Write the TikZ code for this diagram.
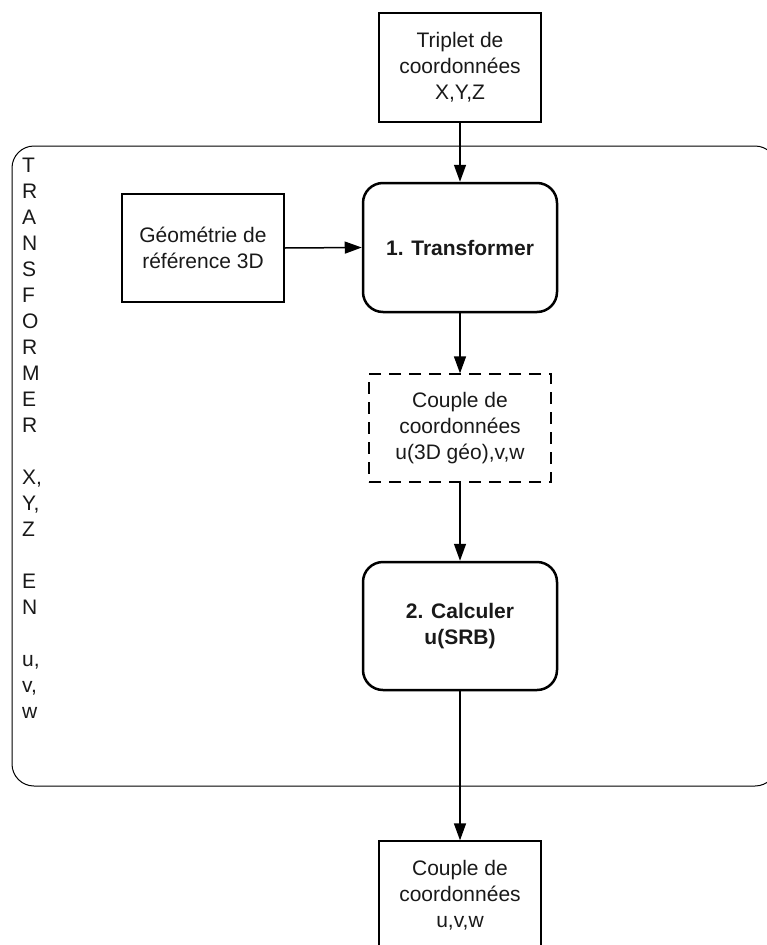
\documentclass[tikz,border=0pt]{standalone}
\usepackage{fontspec}
\setmainfont{Liberation Sans}
\usetikzlibrary{arrows.meta}
\begin{document}
\begin{tikzpicture}[x=1pt,y=-1pt,
  every node/.style={font=\fontsize{21}{26}\selectfont, align=center, inner sep=0pt, text=black!90},
  plainbox/.style={draw, line width=1.3pt, minimum width=162pt, minimum height=109pt},
  procbox/.style={draw, line width=2.5pt, rounded corners=20pt, minimum width=194pt, minimum height=129pt, font=\fontsize{21}{26}\selectfont\bfseries},
  dashbox/.style={draw, line width=1.3pt, dash pattern=on 12pt off 8pt, minimum width=182pt, minimum height=108pt},
  framebox/.style={line width=1pt, rounded corners=22pt},
  flow/.style={line width=1.5pt, -{Triangle[length=17pt,width=12pt]}}
]
\useasboundingbox (0,0) rectangle (766,945);
\draw[framebox] (12,146) rectangle (777,786);

\node[anchor=north west, align=left] (side) at (22,157.5)
  {T\\R\\A\\N\\S\\F\\O\\R\\M\\E\\R\\[26pt]X,\\Y,\\Z\\[26pt]E\\N\\[26pt]u,\\v,\\w};

\node[plainbox] (top) at (460,67.5) {Triplet de\\coordonnées\\X,Y,Z};
\node[plainbox, minimum height=108pt] (geo) at (203,248) {Géométrie de\\référence 3D};
\node[procbox] (trans) at (460,247.5) {1. Transformer};
\node[dashbox] (mid) at (460,428) {Couple de\\coordonnées\\u(3D géo),v,w};
\node[procbox, minimum height=128pt] (calc) at (460,626) {2. Calculer\\u(SRB)};
\node[plainbox, minimum height=108pt] (bot) at (460,895) {Couple de\\coordonnées\\u,v,w};

\draw[flow] (top.south) -- (trans.north);
\draw[flow] (geo.east) -- (trans.west);
\draw[flow] (trans.south) -- (mid.north);
\draw[flow] (mid.south) -- (calc.north);
\draw[flow] (calc.south) -- (bot.north);
\end{tikzpicture}
\end{document}
